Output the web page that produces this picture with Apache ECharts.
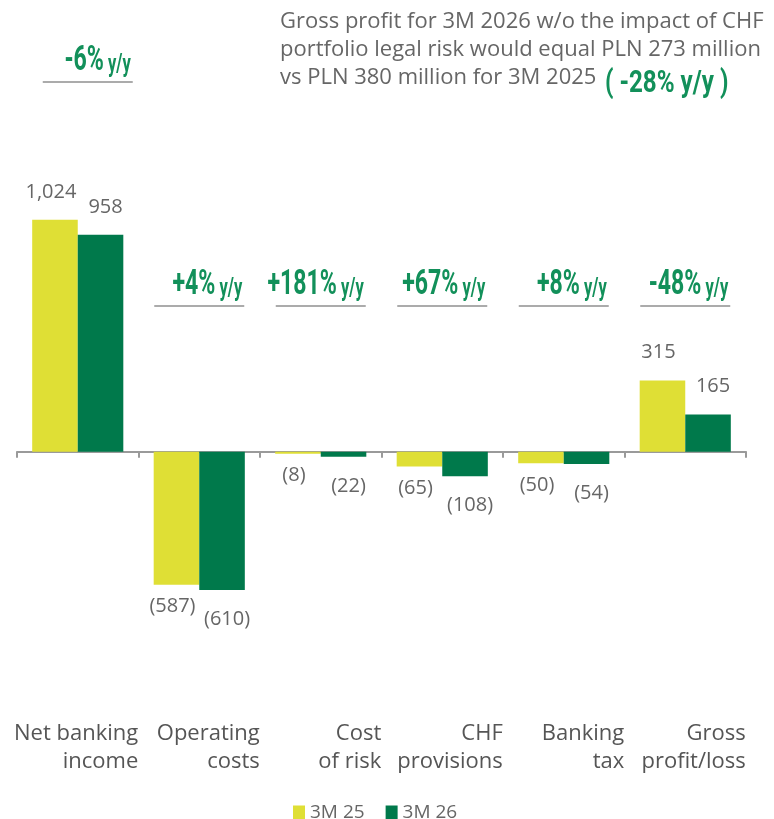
<!DOCTYPE html>
<html>
<head>
<meta charset="utf-8">
<script src="https://cdn.jsdelivr.net/npm/echarts@6/dist/echarts.min.js"></script>
<style>
  html, body { margin: 0; padding: 0; background: #fff; }
  #chart { width: 774px; height: 819px; }
</style>
</head>
<body>
<div id="chart"></div>
<script>
// Quarterly P&L bridge items, PLN million
const categories = ['Net banking\nincome', 'Operating\ncosts', 'Cost\nof risk', 'CHF\nprovisions', 'Banking\ntax', 'Gross\nprofit/loss'];
const series3M25 = [1024, -587, -8, -65, -50, 315];
const series3M26 = [958, -610, -22, -108, -54, 165];
const seriesNames = ['3M 25', '3M 26'];
const changeYoY = ['-6%', '+4%', '+181%', '+67%', '+8%', '-48%'];
const headerLines = [
  'Gross profit for 3M 2026 w/o the impact of CHF',
  'portfolio legal risk would equal PLN 273 million',
  'vs PLN 380 million for 3M 2025'
];
const headerChange = '( -28% y/y )';

const YELLOW = '#dfdf35';
const GREEN = '#00794b';
const TEXT_GREEN = '#12905a';
const GREY_TEXT = '#666666';
const FONT = '"Open Sans", "Noto Sans", sans-serif';
const BOLD_FONT = 'Roboto, "Noto Sans", sans-serif';

function fmt(v) {
  const s = Math.abs(v).toLocaleString('en-US');
  return v < 0 ? '(' + s + ')' : s;
}

// Positive values are labelled above the bar, negative ones below it
function barData(values, belowDistance, dx) {
  return values.map(v => ({
    value: v,
    label: {
      position: v < 0 ? 'bottom' : 'top',
      distance: v < 0 ? belowDistance : 18,
      offset: [dx, 0]
    }
  }));
}

const chart = echarts.init(document.getElementById('chart'), null, { renderer: 'canvas' });

const labelStyle = {
  show: true,
  color: GREY_TEXT,
  fontFamily: FONT,
  fontSize: 20,
  formatter: p => fmt(p.value)
};

chart.setOption({
  animation: false,
  title: {
    text: headerLines.join('\n'),
    left: 280,
    top: 8,
    padding: 0,
    textStyle: { color: GREY_TEXT, fontFamily: FONT, fontWeight: 'normal', fontSize: 22, lineHeight: 28 }
  },
  legend: {
    data: seriesNames,
    left: 288,
    top: 798,
    icon: 'rect',
    itemWidth: 12,
    itemHeight: 14,
    itemGap: 21,
    textStyle: { color: GREY_TEXT, fontFamily: FONT, fontSize: 19 }
  },
  grid: { left: 17, right: 28, top: 180, bottom: 118, containLabel: false },
  xAxis: [
    {
      type: 'category',
      data: categories,
      axisLine: { onZero: true, lineStyle: { color: '#9a9a9a', width: 2 } },
      axisTick: { show: true, length: 6, lineStyle: { color: '#9a9a9a', width: 2 } },
      axisLabel: { show: false }
    },
    {
      type: 'category',
      data: categories,
      position: 'bottom',
      axisLine: { show: false, onZero: false },
      axisTick: { show: false },
      axisLabel: {
        interval: 0,
        margin: 19,
        formatter: v => v.split('\n').map(s => '{t|' + s + '}').join('\n'),
        rich: {
          t: { width: 121, align: 'right', color: '#555', fontFamily: FONT, fontSize: 22, lineHeight: 28 }
        }
      }
    }
  ],
  yAxis: {
    type: 'value',
    min: -1100,
    max: 1200,
    show: false,
    splitLine: { show: false }
  },
  series: [
    {
      name: seriesNames[0],
      type: 'bar',
      data: barData(series3M25, 12, -4),
      itemStyle: { color: YELLOW },
      barGap: '0%',
      barCategoryGap: '25%',
      label: labelStyle
    },
    {
      name: seriesNames[1],
      type: 'bar',
      data: barData(series3M26, 19, 5),
      itemStyle: { color: GREEN },
      barGap: '0%',
      barCategoryGap: '25%',
      label: labelStyle
    }
  ]
});

// Year-on-year change badges above each category, plus the header highlight
const graphics = [];
const squeeze = 0.66;
categories.forEach((c, i) => {
  const cx = chart.convertToPixel({ xAxisIndex: 0 }, c);
  const shift = i === 0 ? 10 : 0;
  const lineY = i === 0 ? 82 : 306;
  const x1 = cx - 45 + shift;
  const x2 = cx + 45 + shift;
  graphics.push({
    type: 'line',
    shape: { x1: x1, y1: lineY, x2: x2, y2: lineY },
    style: { stroke: '#ababab', lineWidth: 2 }
  });
  graphics.push({
    type: 'text',
    x: x2 - 2,
    y: lineY - 3,
    scaleX: squeeze,
    style: {
      text: '{b|' + changeYoY[i] + '}{s| y/y}',
      align: 'right',
      verticalAlign: 'bottom',
      rich: {
        b: { fontFamily: BOLD_FONT, fontWeight: 'bold', fontSize: 35, fill: TEXT_GREEN, verticalAlign: 'bottom' },
        s: { fontFamily: BOLD_FONT, fontWeight: 'bold', fontSize: 25, fill: TEXT_GREEN, verticalAlign: 'bottom', padding: [0, 0, 1, 0] }
      }
    }
  });
});
graphics.push({
  type: 'text',
  x: 605,
  y: 84,
  scaleX: 0.78,
  style: {
    text: headerChange,
    align: 'left',
    verticalAlign: 'middle',
    font: 'bold 31px ' + BOLD_FONT,
    fill: TEXT_GREEN
  }
});
chart.setOption({ graphic: graphics });
</script>
</body>
</html>
